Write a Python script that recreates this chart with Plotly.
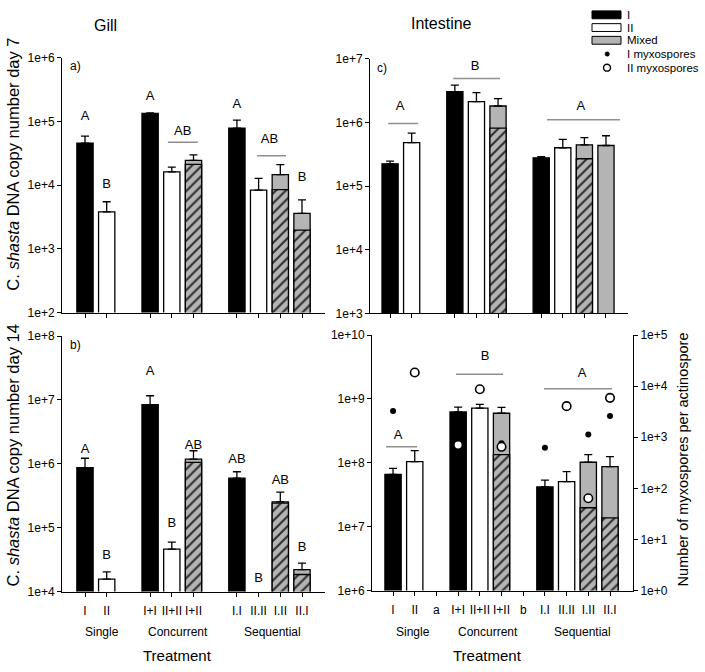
import plotly.graph_objects as go

W, H = 705, 672
FONT = "Liberation Sans, Arial, sans-serif"
GRAY = "#b4b4b4"
HATCH_FG = "#2a2a2a"
BRACKET = "#8f8f8f"

# ---------------- data ----------------
slots = ["I", "II", "a", "I+I", "II+II", "I+II", "b", "I.I", "II.II", "I.II", "II.I"]
bar_cats = ["I", "II", "I+I", "II+II", "I+II", "I.I", "II.II", "I.II", "II.I"]
bar_kind = ["I", "II", "I", "II", "Mixed", "I", "II", "Mixed", "Mixed"]
group_labels = ["Single", "Concurrent", "Sequential"]

# Gill, day 7 (panel a)
gill7_mean = [4.6e4, 3.8e3, 1.34e5, 1.62e4, 2.45e4, 7.9e4, 8.4e3, 1.47e4, 3.6e3]
gill7_err = [5.9e4, 5.5e3, 1.37e5, 1.93e4, 3.0e4, 1.05e5, 1.28e4, 2.1e4, 5.9e3]
gill7_hatch = [None, None, None, None, 2.12e4, None, None, 8.5e3, 1.97e3]

# Intestine, day 7 (panel c)
int7_mean = [2.25e5, 4.85e5, 3.06e6, 2.13e6, 1.82e6, 2.79e5, 4.02e5, 4.47e5, 4.36e5]
int7_err = [2.48e5, 6.8e5, 3.88e6, 2.95e6, 2.37e6, 2.9e5, 5.45e5, 5.8e5, 6.2e5]
int7_hatch = [None, None, None, None, 8.2e5, None, None, 2.7e5, None]

# Gill, day 14 (panel b)
gill14_mean = [8.7e5, 1.56e4, 8.4e6, 4.6e4, 1.18e6, 5.96e5, None, 2.53e5, 2.2e4]
gill14_err = [1.22e6, 2.03e4, 1.16e7, 5.96e4, 1.6e6, 7.5e5, None, 3.6e5, 2.78e4]
gill14_hatch = [None, None, None, None, 1.05e6, None, None, 2.42e5, 1.85e4]

# Intestine, day 14 (panel d)
int14_mean = [6.6e7, 1.04e8, 6.25e8, 7.2e8, 5.96e8, 4.19e7, 5.06e7, 1.02e8, 8.7e7]
int14_err = [8.2e7, 1.55e8, 7.45e8, 8.2e8, 7.36e8, 5.35e7, 7.3e7, 1.34e8, 1.25e8]
int14_hatch = [None, None, None, None, 1.34e8, None, None, 1.98e7, 1.37e7]

# Myxospores per actinospore (panel d, right axis)
myxo_I_cats = ["I", "I+II", "I.I", "I.II", "II.I"]
myxo_I_vals = [3.25e3, 7.6e2, 6.2e2, 1.13e3, 2.6e3]
myxo_II_cats = ["II", "I+I", "II+II", "I+II", "II.II", "I.II", "II.I"]
myxo_II_vals = [1.85e4, 7.05e2, 8.7e3, 6.5e2, 4.06e3, 64, 5.9e3]

# significance letters: (slot position, text, value)
letters_a = [(0, "A", 1.19e5), (1, "B", 1.0e4), (3, "A", 2.43e5), (4.5, "AB", 7.0e4),
             (7, "A", 1.82e5), (8.5, "AB", 5.25e4), (10, "B", 1.29e4)]
brackets_a = [(3.82, 5.2, 4.75e4), (7.93, 9.26, 2.9e4)]
letters_c = [(0.46, "A", 1.76e6), (3.94, "B", 7.53e6), (8.84, "A", 1.76e6)]
brackets_c = [(-0.09, 1.3, 9.66e5), (2.92, 5.09, 4.9e6), (7.27, 10.65, 1.11e6)]
letters_b = [(0, "A", 1.67e6), (1, "B", 3.69e4), (3, "A", 2.71e7), (4, "B", 1.17e5),
             (5, "AB", 1.92e6), (7, "AB", 1.17e6), (8, "B", 1.58e4), (9, "AB", 5.37e5),
             (10, "B", 4.9e4)]
letters_d = [(0.23, "A", 2.63e8), (4.24, "B", 4.57e9), (8.71, "A", 2.44e9)]
brackets_d = [(-0.32, 1.11, 1.79e8), (2.9, 5.07, 2.44e9), (6.96, 10.09, 1.44e9)]

# ---------------- figure ----------------
fig = go.Figure()
bar_x = [slots.index(c) for c in bar_cats]
kind_color = {"I": "black", "II": "white", "Mixed": GRAY}


def add_panel(xa, ya, mean, err, hatch):
    for kind in ["I", "II", "Mixed"]:
        idx = [i for i, k in enumerate(bar_kind) if k == kind and mean[i] is not None]
        fig.add_trace(go.Bar(
            x=[bar_x[i] for i in idx], y=[mean[i] for i in idx], width=0.75,
            marker=dict(color=kind_color[kind], line=dict(color="black", width=1.3)),
            error_y=dict(type="data", symmetric=False,
                         array=[err[i] - mean[i] for i in idx],
                         arrayminus=[0] * len(idx), color="black", thickness=1.3, width=4),
            xaxis=xa, yaxis=ya, hoverinfo="skip"))
    idx = [i for i in range(len(hatch)) if hatch[i] is not None]
    fig.add_trace(go.Bar(
        x=[bar_x[i] for i in idx], y=[hatch[i] for i in idx], width=0.75,
        marker=dict(color=GRAY, line=dict(color="black", width=1.3),
                    pattern=dict(shape="/", bgcolor=GRAY, fgcolor=HATCH_FG,
                                 size=7, solidity=0.28, fillmode="replace")),
        xaxis=xa, yaxis=ya, hoverinfo="skip"))


def add_letters(xa, ya, letters, brackets):
    fig.add_trace(go.Scatter(
        x=[l[0] for l in letters], y=[l[2] for l in letters], text=[l[1] for l in letters],
        mode="text", textposition="middle center",
        textfont=dict(family=FONT, size=13, color="black"),
        xaxis=xa, yaxis=ya, hoverinfo="skip"))
    for x0, x1, yv in brackets:
        fig.add_trace(go.Scatter(x=[x0, x1], y=[yv, yv], mode="lines",
                                 line=dict(color=BRACKET, width=1.5),
                                 xaxis=xa, yaxis=ya, hoverinfo="skip"))


add_panel("x", "y", gill7_mean, gill7_err, gill7_hatch)
add_panel("x2", "y2", int7_mean, int7_err, int7_hatch)
add_panel("x3", "y3", gill14_mean, gill14_err, gill14_hatch)
add_panel("x4", "y4", int14_mean, int14_err, int14_hatch)
add_letters("x", "y", letters_a, brackets_a)
add_letters("x2", "y2", letters_c, brackets_c)
add_letters("x3", "y3", letters_b, [])
add_letters("x4", "y4", letters_d, brackets_d)

fig.add_trace(go.Scatter(
    x=[slots.index(c) for c in myxo_I_cats], y=myxo_I_vals, mode="markers",
    marker=dict(symbol="circle", size=6, color="black"),
    xaxis="x4", yaxis="y5", hoverinfo="skip"))
fig.add_trace(go.Scatter(
    x=[slots.index(c) for c in myxo_II_cats], y=myxo_II_vals, mode="markers",
    marker=dict(symbol="circle", size=8.5, color="white", line=dict(color="black", width=1.6)),
    xaxis="x4", yaxis="y5", hoverinfo="skip"))


def dom_x(a, b):
    return [a / W, b / W]


def dom_y(top, bottom):
    return [1 - bottom / H, 1 - top / H]


def ylog(lo, hi):
    vals = [10 ** k for k in range(lo, hi + 1)]
    return dict(type="log", range=[lo, hi], tickvals=vals,
                ticktext=["1e+%d" % k for k in range(lo, hi + 1)])


axis_common = dict(showline=True, linecolor="black", linewidth=1, ticks="outside",
                   ticklen=4, tickcolor="black", showgrid=False, zeroline=False,
                   tickfont=dict(family=FONT, size=12, color="black"))

bar_labels_bd = [c for c in bar_cats]
fig.update_layout(
    width=W, height=H, margin=dict(l=0, r=0, t=0, b=0),
    paper_bgcolor="white", plot_bgcolor="white", showlegend=False,
    barmode="overlay", font=dict(family=FONT, color="black"),
    xaxis=dict(domain=dom_x(62, 325), anchor="y", range=[-1.06, 11.06],
               tickvals=bar_x, ticktext=[""] * len(bar_x), **axis_common),
    yaxis=dict(domain=dom_y(52, 312), anchor="x", **ylog(2, 6), **axis_common),
    xaxis2=dict(domain=dom_x(370, 628), anchor="y2", range=[-0.93, 11.02],
                tickvals=bar_x, ticktext=[""] * len(bar_x), **axis_common),
    yaxis2=dict(domain=dom_y(53, 313), anchor="x2", **ylog(3, 7), **axis_common),
    xaxis3=dict(domain=dom_x(62, 325), anchor="y3", range=[-1.06, 11.06],
                tickvals=bar_x, ticktext=bar_labels_bd, ticklabelstandoff=4, **axis_common),
    yaxis3=dict(domain=dom_y(336, 597), anchor="x3", **ylog(4, 8), **axis_common),
    xaxis4=dict(domain=dom_x(372, 633), anchor="y4", range=[-0.97, 11.06],
                tickvals=list(range(len(slots))), ticktext=slots, ticklabelstandoff=4,
                **axis_common),
    yaxis4=dict(domain=dom_y(335, 596), anchor="x4", **ylog(6, 10), **axis_common),
    yaxis5=dict(overlaying="y4", anchor="x4", side="right", **ylog(0, 5), **axis_common),
)

annotations = []


def ann(text, x, y, size, angle=0, xanchor="center", pad=1):
    annotations.append(dict(text=text, x=x / W, y=1 - y / H, xref="paper", yref="paper",
                            showarrow=False, xanchor=xanchor, yanchor="middle",
                            textangle=angle, borderpad=pad,
                            font=dict(family=FONT, size=size, color="black")))


ann("Gill", 105, 19, 16)
ann("Intestine", 441, 17, 16)
ann("a)", 68, 60, 12, xanchor="left")
ann("b)", 68, 345, 12, xanchor="left")
ann("c)", 375, 62, 12, xanchor="left")
ann("C. <i>shasta</i> DNA copy number day 7", 13, 161, 16.5, angle=-90)
ann("C. <i>shasta</i> DNA copy number day 14", 13, 458, 16.5, angle=-90)
ann("Number of myxospores per actinospore", 683, 462, 14.5, angle=-90)
for name, xb, xd in zip(group_labels, [102, 178, 272], [413, 488, 582]):
    ann(name, xb, 638, 12)
    ann(name, xd, 638, 12)
ann("Treatment", 178, 662, 15)
ann("Treatment", 487, 662, 15)

# legend (manual)
legend_items = ["I", "II", "Mixed", "I myxospores", "II myxospores"]
legend_rows = [8, 21, 34, 48, 62]
for name, yy in zip(legend_items, legend_rows):
    ann(name, 626, yy, 11.5, xanchor="left", pad=0)

shapes = []
for color, yy in zip(["black", "white", GRAY], legend_rows[:3]):
    shapes.append(dict(type="rect", xref="paper", yref="paper",
                       x0=592 / W, x1=621 / W, y0=1 - (yy - 4) / H, y1=1 - (yy + 4) / H,
                       fillcolor=color, line=dict(color="black", width=1)))
shapes.append(dict(type="circle", xref="paper", yref="paper",
                   x0=605 / W, x1=609.5 / W, y0=1 - 45.8 / H, y1=1 - 50.3 / H,
                   fillcolor="black", line=dict(color="black", width=0.5)))
shapes.append(dict(type="circle", xref="paper", yref="paper",
                   x0=603.5 / W, x1=610.5 / W, y0=1 - 58.5 / H, y1=1 - 65.5 / H,
                   fillcolor="white", line=dict(color="black", width=1.4)))

fig.update_layout(annotations=annotations, shapes=shapes)
fig.write_html("out.html", config={"displayModeBar": False},
               post_script="document.body.style.margin='0px';document.body.style.overflow='hidden';")
